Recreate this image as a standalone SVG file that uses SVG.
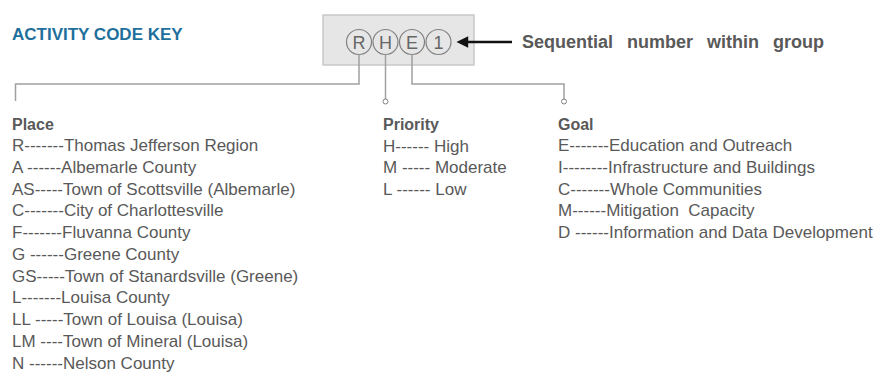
<svg xmlns="http://www.w3.org/2000/svg" width="890" height="378" viewBox="0 0 890 378">
  <style>
    text { font-family: "Liberation Sans", Arial, sans-serif; fill: #595959; }
    .title { font-size: 17px; font-weight: bold; fill: #1e6f9b; }
    .head { font-size: 16px; font-weight: bold; }
    .item { font-size: 17px; white-space: pre; }
    .seq { font-size: 18px; font-weight: bold; word-spacing: 9px; }
    .code { font-size: 18px; text-anchor: middle; fill: #666666; }
    .bubble { fill: #e6e6e6; stroke: #808080; stroke-width: 1.2; }
    .leader { fill: none; stroke: #a0a0a0; stroke-width: 1.5; }
    .tip { fill: #ffffff; stroke: #808080; stroke-width: 1; }
  </style>
  <defs>
    <marker id="arrowhead" viewBox="0 0 10 10" refX="1" refY="5" markerWidth="6" markerHeight="4.5" orient="auto-start-reverse" markerUnits="strokeWidth">
      <path d="M0,0 L10,5 L0,10 Z" fill="#111111"/>
    </marker>
  </defs>

  <rect width="890" height="378" fill="#ffffff"/>

  <g id="title">
    <text class="title" x="12" y="40">ACTIVITY CODE KEY</text>
  </g>

  <!-- example activity code R H E 1 -->
  <g id="code-box">
    <rect x="323" y="15" width="151" height="50" fill="#e6e6e6" stroke="#c8c8c8" stroke-width="1.5"/>
    <circle class="bubble" cx="359" cy="42" r="12.5"/>
    <circle class="bubble" cx="385.5" cy="42" r="12.5"/>
    <circle class="bubble" cx="412" cy="42" r="12.5"/>
    <circle class="bubble" cx="438.5" cy="42" r="12.5"/>
    <text class="code" x="359" y="48.5">R</text>
    <text class="code" x="385.5" y="48.5">H</text>
    <text class="code" x="412" y="48.5">E</text>
    <text class="code" x="438.5" y="48.5">1</text>
  </g>

  <g id="sequence-label">
    <text class="seq" x="522" y="48">Sequential number within group</text>
  </g>

  <g id="connectors">
    <polyline class="leader" points="359,54.5 359,84 15.5,84 15.5,101"/>
    <line class="leader" x1="385.5" y1="54.5" x2="385.5" y2="99"/>
    <circle class="tip" cx="385.5" cy="101.5" r="2.5"/>
    <polyline class="leader" points="412,54.5 412,84 564,84 564,99"/>
    <circle class="tip" cx="564" cy="101.5" r="2.5"/>
    <line x1="512" y1="42" x2="467" y2="42" stroke="#111111" stroke-width="2.6" marker-end="url(#arrowhead)"/>
  </g>

  <g id="place-key">
    <text class="head" x="12" y="130">Place</text>
    <text class="item" x="12" y="151">R-------Thomas Jefferson Region</text>
    <text class="item" x="12" y="173">A ------Albemarle County</text>
    <text class="item" x="12" y="195">AS-----Town of Scottsville (Albemarle)</text>
    <text class="item" x="12" y="216">C-------City of Charlottesville</text>
    <text class="item" x="12" y="238">F-------Fluvanna County</text>
    <text class="item" x="12" y="260">G ------Greene County</text>
    <text class="item" x="12" y="282">GS-----Town of Stanardsville (Greene)</text>
    <text class="item" x="12" y="303">L-------Louisa County</text>
    <text class="item" x="12" y="325">LL -----Town of Louisa (Louisa)</text>
    <text class="item" x="12" y="347">LM ----Town of Mineral (Louisa)</text>
    <text class="item" x="12" y="369">N ------Nelson County</text>
  </g>

  <g id="priority-key">
    <text class="head" x="383" y="130">Priority</text>
    <text class="item" x="383" y="152">H------ High</text>
    <text class="item" x="383" y="173">M ----- Moderate</text>
    <text class="item" x="383" y="195">L ------ Low</text>
  </g>

  <g id="goal-key">
    <text class="head" x="558" y="130">Goal</text>
    <text class="item" x="558" y="151">E-------Education and Outreach</text>
    <text class="item" x="558" y="173">I--------Infrastructure and Buildings</text>
    <text class="item" x="558" y="195">C-------Whole Communities</text>
    <text class="item" x="558" y="216">M------Mitigation  Capacity</text>
    <text class="item" x="558" y="238">D ------Information and Data Development</text>
  </g>
</svg>
